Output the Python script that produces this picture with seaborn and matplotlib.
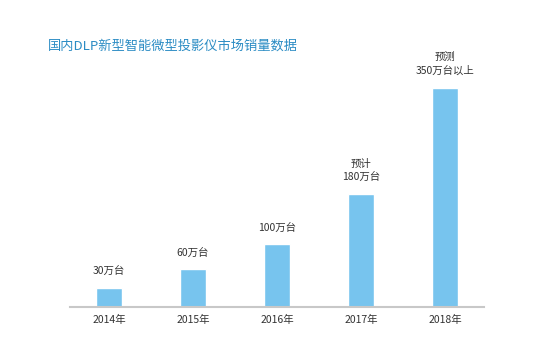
import matplotlib
matplotlib.use("Agg")
import matplotlib.pyplot as plt
import seaborn as sns
import pandas as pd

sns.set_theme(style="white")
plt.rcParams['font.family'] = ['Noto Sans CJK SC', 'DejaVu Sans']

years = ["2014年", "2015年", "2016年", "2017年", "2018年"]
sales = [30, 60, 100, 180, 350]
labels = ["30万台", "60万台", "100万台", "预计\n180万台", "预测\n350万台以上"]
title = "国内DLP新型智能微型投影仪市场销量数据"

df = pd.DataFrame({"year": years, "sales": sales})

fig = plt.figure(figsize=(5.54, 3.53), dpi=100)
ax = fig.add_axes([70/554, 46/353, 414/554, 287/353])
sns.barplot(data=df, x="year", y="sales", color="#77C4EE", saturation=1,
            width=0.31, ax=ax)
ax.set_xlim(-0.464, 4.464)
ax.set_ylim(0, 458.7)
ax.set_xlabel("")
ax.set_ylabel("")
ax.set_yticks([])
for s in ["top", "right", "left"]:
    ax.spines[s].set_visible(False)
ax.spines["bottom"].set_color("#c8c8c8")
ax.spines["bottom"].set_linewidth(1.5)
ax.tick_params(axis="x", length=0, pad=6, labelsize=7.5, labelcolor="#333333")

for i, (v, lab) in enumerate(zip(sales, labels)):
    ax.annotate(lab, (i, v), xytext=(0, 12), textcoords="offset pixels",
                ha="center", va="bottom", fontsize=7.5, color="#333333",
                linespacing=1.45)

fig.text(48/554, 1 - 46/353, title, ha="left", va="center",
         fontsize=9.5, color="#2B8CC4")

fig.savefig("out.png", dpi=100, facecolor="white")
